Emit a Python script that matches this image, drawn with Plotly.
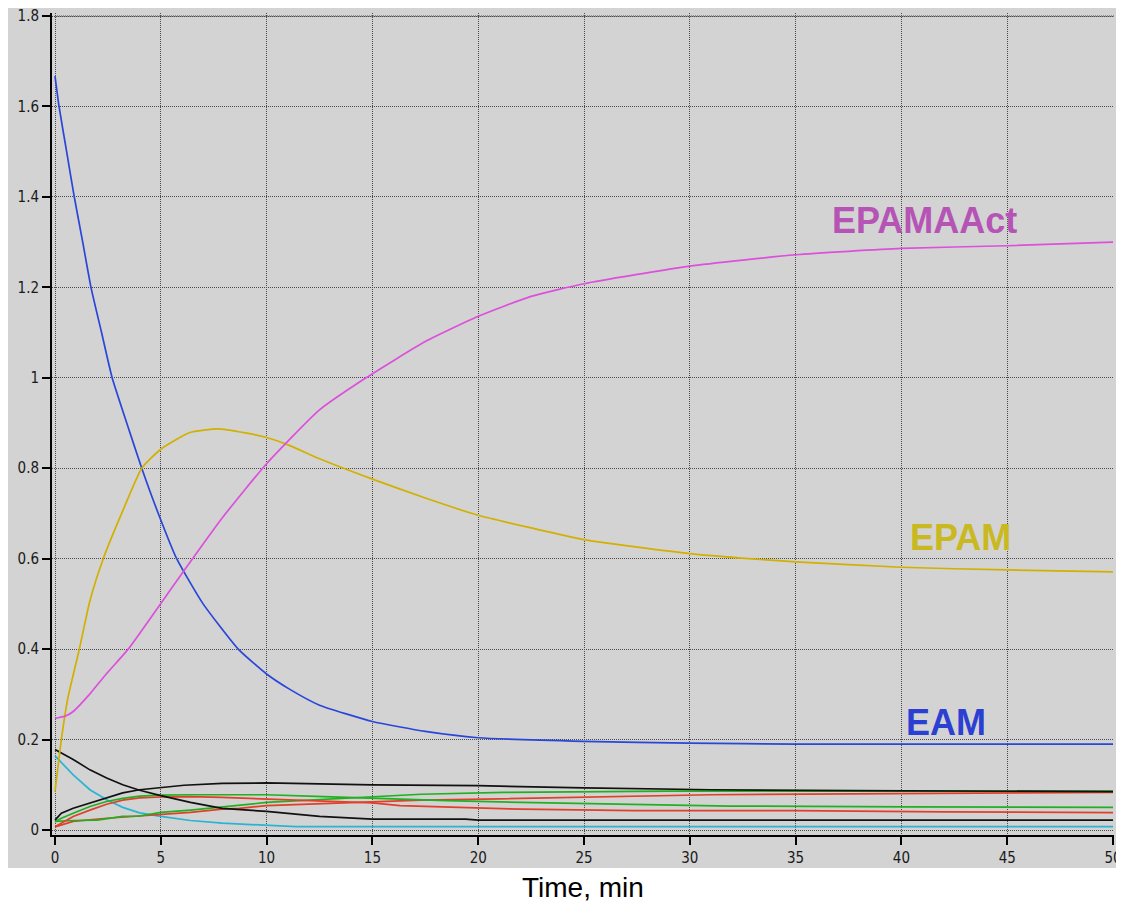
import plotly.graph_objects as go

# ---------------- data ----------------
t_eam = [0, 0.19, 0.55, 0.91, 1.31, 1.70, 2.2, 2.7, 3.39, 4.1, 4.88, 5.75, 7.0, 8.66, 10, 11.1, 12.5, 15, 17.5, 20, 25, 30, 35, 40, 45, 50]
eam = [1.667, 1.6, 1.5, 1.4, 1.3, 1.2, 1.1, 1.0, 0.9, 0.8, 0.7, 0.6, 0.5, 0.4, 0.345, 0.311, 0.276, 0.24, 0.218, 0.204, 0.196, 0.192, 0.19, 0.19, 0.19, 0.19]

t_epam = [0, 0.3, 0.6, 1.15, 1.65, 2.28, 3.15, 4.1, 5, 6.37, 7.7, 9, 10, 11.1, 12.5, 15, 17.5, 20, 22.5, 25, 30, 35, 40, 45, 50]
epam = [0.085, 0.2, 0.29, 0.4, 0.507, 0.6, 0.7, 0.8, 0.842, 0.879, 0.887, 0.878, 0.868, 0.85, 0.821, 0.776, 0.734, 0.696, 0.668, 0.642, 0.611, 0.593, 0.581, 0.575, 0.571]

t_act = [0, 0.5, 0.86, 1.65, 2.44, 3.46, 5, 6.5, 7.9, 10, 12.5, 14.7, 17.5, 20, 22.5, 25, 30, 35, 40, 45, 50]
epamaact = [0.247, 0.252, 0.262, 0.301, 0.346, 0.4, 0.501, 0.6, 0.69, 0.81, 0.929, 1.0, 1.08, 1.136, 1.18, 1.208, 1.247, 1.272, 1.286, 1.292, 1.3]

t_k1 = [0, 0.86, 1.65, 2.44, 3.2, 4.0, 5, 6.4, 7.9, 10, 12.5, 15, 19.4, 20, 50]
black1 = [0.178, 0.156, 0.133, 0.115, 0.1, 0.088, 0.076, 0.061, 0.048, 0.041, 0.03, 0.024, 0.024, 0.022, 0.022]

t_c = [0, 0.86, 1.65, 2.44, 3.2, 4.0, 5, 6.4, 7.9, 10, 11.4, 50]
cyan = [0.164, 0.122, 0.089, 0.067, 0.05, 0.038, 0.03, 0.021, 0.015, 0.01, 0.0074, 0.0074]

t_k2 = [0, 0.3, 0.86, 1.65, 2.44, 3.2, 4.0, 5, 6.1, 7.9, 10, 15, 20, 25, 31, 37.7, 50]
black2 = [0.022, 0.037, 0.048, 0.059, 0.07, 0.082, 0.089, 0.093, 0.099, 0.103, 0.104, 0.1, 0.098, 0.093, 0.089, 0.087, 0.085]

t_g1 = [0, 0.3, 0.86, 1.65, 2.44, 3.2, 4.0, 5, 6.4, 7.9, 10, 12.7, 15, 18.5, 22, 26.2, 31.9, 40.3, 50]
green1 = [0.018, 0.026, 0.037, 0.052, 0.063, 0.07, 0.075, 0.077, 0.078, 0.078, 0.078, 0.074, 0.07, 0.065, 0.061, 0.057, 0.053, 0.051, 0.05]

t_r1 = [0, 0.3, 0.86, 1.65, 2.44, 3.2, 4.0, 5, 6.4, 7.9, 10, 12.5, 15, 16.3, 18.7, 22, 27.4, 35, 42, 50]
red1 = [0.007, 0.015, 0.03, 0.044, 0.057, 0.066, 0.071, 0.073, 0.074, 0.072, 0.068, 0.064, 0.06, 0.054, 0.05, 0.046, 0.043, 0.043, 0.04, 0.0385]

t_g2 = [0, 0.86, 2.0, 3.2, 4.0, 5, 6.4, 7.9, 9, 10, 12.5, 15, 17.3, 21.2, 29, 50]
green2 = [0.019, 0.021, 0.022, 0.03, 0.031, 0.039, 0.044, 0.05, 0.056, 0.061, 0.067, 0.073, 0.079, 0.083, 0.086, 0.086]

t_r2 = [0, 0.86, 2.44, 4.0, 5, 6.4, 7.9, 8.7, 10, 12.5, 15, 17.3, 21, 24, 28, 31, 37.7, 50]
red2 = [0.007, 0.019, 0.026, 0.031, 0.035, 0.039, 0.046, 0.048, 0.054, 0.058, 0.061, 0.066, 0.069, 0.072, 0.075, 0.078, 0.08, 0.083]

x_ticks = [0, 5, 10, 15, 20, 25, 30, 35, 40, 45, 50]
y_ticks = [0, 0.2, 0.4, 0.6, 0.8, 1, 1.2, 1.4, 1.6, 1.8]
y_tick_text = ["0", "0.2", "0.4", "0.6", "0.8", "1", "1.2", "1.4", "1.6", "1.8"]

labels = ["EPAMAAct", "EPAM", "EAM"]
label_t = [41.1, 42.8, 42.1]
label_y = [1.347, 0.646, 0.237]

# ---------------- styling ----------------
GRAY = "#d3d3d3"
GRID = "#4a4a4a"
series = [
    (t_c, cyan, "#2ab4d4", False),
    (t_r2, red2, "#e0402a", False),
    (t_g2, green2, "#22b022", False),
    (t_r1, red1, "#e0402a", False),
    (t_g1, green1, "#22b022", False),
    (t_k1, black1, "#111111", False),
    (t_k2, black2, "#111111", False),
    (t_eam, eam, "#2a46d8", True),
    (t_epam, epam, "#d2b000", True),
    (t_act, epamaact, "#dc50dc", True),
]
label_colors = ["#b654b6", "#c9b820", "#2b3fd2"]

fig = go.Figure()
for tx, vy, col, smooth in series:
    line = dict(color=col, width=1.7)
    if smooth:
        line.update(shape="spline", smoothing=0.5)
    fig.add_trace(go.Scatter(x=tx, y=vy, mode="lines", line=line,
                             showlegend=False, hoverinfo="skip"))

for txt, tx, ty, col in zip(labels, label_t, label_y, label_colors):
    fig.add_annotation(x=tx, y=ty, xref="x", yref="y", text="<b>" + txt + "</b>",
                       showarrow=False,
                       font=dict(family="Liberation Sans, Arial, sans-serif", size=36, color=col),
                       xanchor="center", yanchor="middle")

fig.add_annotation(x=0.5, y=0, xref="paper", yref="paper", text="Time, min",
                   showarrow=False, xanchor="center", yanchor="middle", yshift=-52,
                   font=dict(family="Liberation Sans, Arial, sans-serif", size=28, color="#000"))

# The page places the figure 8px from the top-left corner (body margin),
# so the figure is sized/margined in figure coordinates accordingly.
W, H = 1116, 897
L, R, T, B = 44, 10, 5, 70
pw, ph = W - L - R, H - T - B

# gray panel behind the plot (figure x 0..1114, y 0..860)
fig.add_shape(type="rect", xref="paper", yref="paper",
              x0=(0 - L) / pw, x1=(1114 - L) / pw,
              y0=(H - B - 860) / ph, y1=(H - B + 2) / ph,
              fillcolor=GRAY, line=dict(width=0), layer="below")

# dotted top border grid line at the last y tick
fig.add_shape(type="line", xref="paper", yref="y", x0=3 / pw, x1=1.0,
              y0=y_ticks[-1], y1=y_ticks[-1],
              line=dict(color=GRID, width=1, dash="1px,1px"), layer="below")

tickfont = dict(family="Liberation Sans Narrow, DejaVu Sans Condensed, Arial Narrow, sans-serif",
                size=15, color="#1a1a1a")

axis_common = dict(showgrid=True, gridcolor=GRID, griddash="1px,1px", gridwidth=1,
                   zeroline=False, showline=True, linecolor="black", linewidth=2,
                   ticks="outside", ticklen=8, tickwidth=2, tickcolor="black",
                   tickfont=tickfont, automargin=False, ticklabeloverflow="allow")

# y: 0 -> fig y 822, 1.8 -> fig y 8, bottom of plot (x-axis line) at fig y 827
y_top = 1.8 + 3 / 452.2
y_bot = -5 / 452.2

fig.update_layout(
    width=W, height=H,
    margin=dict(l=L, r=R, t=T, b=B, pad=0, autoexpand=False),
    paper_bgcolor="white",
    plot_bgcolor=GRAY,
    showlegend=False,
    xaxis=dict(range=[-0.142, 50.047], tickvals=x_ticks, ticktext=[str(v) for v in x_ticks],
               **axis_common),
    yaxis=dict(range=[y_bot, y_top], tickvals=y_ticks, ticktext=y_tick_text,
               **axis_common),
)

fig.write_html("out.html")
